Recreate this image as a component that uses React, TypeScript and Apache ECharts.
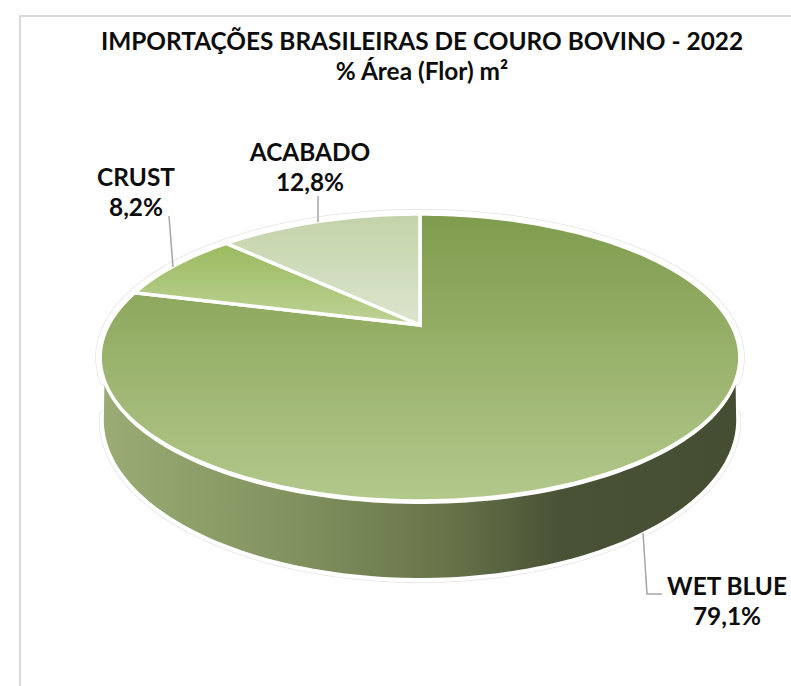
import React, { useEffect, useRef } from "react";
import * as echarts from "echarts";

const categories = ["WET BLUE", "CRUST", "ACABADO"];
const shares = [79.1, 8.2, 12.8];
const titleLines = ["IMPORTAÇÕES BRASILEIRAS DE COURO BOVINO - 2022", "% Área (Flor) m²"];

const fills = [
  ["#7f9c4d", "#b3c88b"],
  ["#9aba5e", "#bfd296"],
  ["#c3d3a8", "#dce5cf"],
];
const labelPos = [
  { x: 727, y: 600 },
  { x: 136, y: 191 },
  { x: 310, y: 166 },
];
const leaders = [
  [[643, 533], [647, 594], [662, 594]],
  [[169, 216], [173, 267]],
  [[318, 196], [318, 222]],
];

const K = 0.2265;
const cx = 420;
const top = { cy: 325, a: 136.1, b: 311.5 };
const low = { cy: 384, a: 150, b: 308 };

const project = (p: { cy: number; a: number; b: number }, deg: number, r = 1, dy = 0) => {
  const t = (deg * Math.PI) / 180;
  const X = r * Math.sin(t);
  const Y = r * Math.cos(t);
  const d = 1 + K * Y;
  return [cx + (p.b * X) / d, p.cy - (p.a * Y) / d + dy];
};
const arc = (p: any, from: number, to: number, dy = 0) => {
  const out: number[][] = [];
  const n = Math.max(2, Math.ceil(Math.abs(to - from) / 1.5));
  for (let i = 0; i <= n; i++) out.push(project(p, from + ((to - from) * i) / n, 1, dy));
  return out;
};

const total = shares.reduce((a, b) => a + b, 0);

const renderItem = (params: any, api: any) => {
  const i = params.dataIndex;
  let start = 0;
  for (let j = 0; j < i; j++) start += shares[j];
  const from = (start / total) * 360;
  const to = ((start + api.value(0)) / total) * 360;
  const children: any[] = [];

  if (i === 0) {
    const wallTop = arc(top, 112, 248, 3);
    const wallBottom = arc(low, 258.5, 101.5);
    const wall = [...wallTop, ...wallBottom];
    const rim = [...arc(top, 248, 472), ...wallBottom];
    children.push({
      type: "polygon",
      shape: { points: rim },
      style: { fill: "#ffffff", stroke: "#e4e4e4", lineWidth: 10, lineJoin: "round" },
    });
    children.push({
      type: "polygon",
      shape: { points: rim },
      style: { fill: "#ffffff", stroke: "#ffffff", lineWidth: 8.5, lineJoin: "round" },
    });
    children.push({
      type: "polygon",
      shape: { points: wall },
      style: {
        fill: new echarts.graphic.LinearGradient(0, 0, 1, 0, [
          { offset: 0, color: "#9aab74" },
          { offset: 0.3, color: "#82925f" },
          { offset: 0.55, color: "#667349" },
          { offset: 0.72, color: "#495235" },
          { offset: 1, color: "#454e32" },
        ]),
      },
    });
  }

  children.push({
    type: "polygon",
    shape: { points: [[cx, top.cy], ...arc(top, from, to)] },
    style: {
      fill: new echarts.graphic.LinearGradient(0, 0, 0, 1, [
        { offset: 0, color: fills[i][0] },
        { offset: 1, color: fills[i][1] },
      ]),
      stroke: "#ffffff",
      lineWidth: 3.5,
      lineJoin: "miter",
    },
  });

  children.push({
    type: "polyline",
    shape: { points: leaders[i] },
    style: { fill: "none", stroke: "#a6a6a6", lineWidth: 1.5 },
  });
  children.push({
    type: "text",
    x: labelPos[i].x,
    y: labelPos[i].y,
    style: {
      text: `${categories[i]}\n${api.value(0).toFixed(1).replace(".", ",")}%`,
      fill: "#0d0d0d",
      font: "bold 24.4px Lato",
      lineHeight: 30,
      align: "center",
      verticalAlign: "middle",
    },
  });
  return { type: "group", children };
};

export default function App() {
  const ref = useRef<HTMLDivElement>(null);
  useEffect(() => {
    const chart = echarts.init(ref.current!, undefined, { renderer: "svg" });
    chart.setOption({
      animation: false,
      backgroundColor: "#ffffff",
      title: {
        text: titleLines.join("\n"),
        left: 417,
        top: 20,
        textAlign: "center",
        textStyle: {
          fontFamily: "Lato",
          fontWeight: "bold",
          fontSize: 24.4,
          lineHeight: 30,
          color: "#0d0d0d",
        },
      },
      graphic: [
        { type: "line", shape: { x1: 20, y1: 15, x2: 20, y2: 686 }, style: { stroke: "#d9d9d9", lineWidth: 2 } },
        { type: "line", shape: { x1: 19, y1: 16, x2: 791, y2: 16 }, style: { stroke: "#d9d9d9", lineWidth: 2 } },
      ],
      series: [
        {
          type: "custom",
          coordinateSystem: "none",
          silent: true,
          data: shares.map((v) => [v]),
          renderItem,
        },
      ],
    });
    return () => chart.dispose();
  }, []);
  return <div ref={ref} style={{ position: "fixed", left: 0, top: 0, width: 791, height: 686 }} />;
}
